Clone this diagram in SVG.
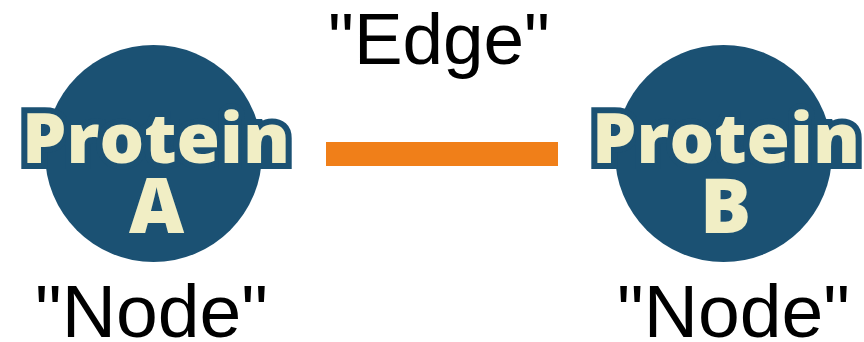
<svg xmlns="http://www.w3.org/2000/svg" width="864" height="342" viewBox="0 0 864 342">
  <style>
    .disc { fill: #1b5173; }
    .name { font-family: "Open Sans", "Liberation Sans", Arial, sans-serif; font-weight: 800; fill: #f1eec5; text-anchor: middle; }
    .outlined { stroke: #1b5173; stroke-width: 12; stroke-linejoin: miter; paint-order: stroke fill; }
    .caption { font-family: "Liberation Sans", Arial, sans-serif; fill: #000; text-anchor: middle; }
  </style>
  <rect width="864" height="342" fill="#ffffff"/>

  <!-- connector -->
  <g id="connectors">
    <rect x="326" y="142" width="232" height="24" fill="#f07f19"/>
    <text class="caption" x="439" y="64" font-size="72" textLength="222" lengthAdjust="spacingAndGlyphs">"Edge"</text>
  </g>

  <!-- node: Protein A -->
  <g id="protein-a">
    <circle class="disc" cx="153.5" cy="153.5" r="108.5"/>
    <text class="name outlined" x="156" y="163" font-size="69" textLength="268" lengthAdjust="spacingAndGlyphs">Protein</text>
    <text class="name" x="156.5" y="233" font-size="76">A</text>
    <text class="caption" x="151.5" y="337" font-size="75" textLength="233" lengthAdjust="spacingAndGlyphs">"Node"</text>
  </g>

  <!-- node: Protein B -->
  <g id="protein-b">
    <circle class="disc" cx="723.5" cy="153.5" r="108.5"/>
    <text class="name outlined" x="726" y="163" font-size="69" textLength="268" lengthAdjust="spacingAndGlyphs">Protein</text>
    <text class="name" x="725.5" y="233" font-size="76">B</text>
    <text class="caption" x="733.5" y="337" font-size="75" textLength="233" lengthAdjust="spacingAndGlyphs">"Node"</text>
  </g>
</svg>
